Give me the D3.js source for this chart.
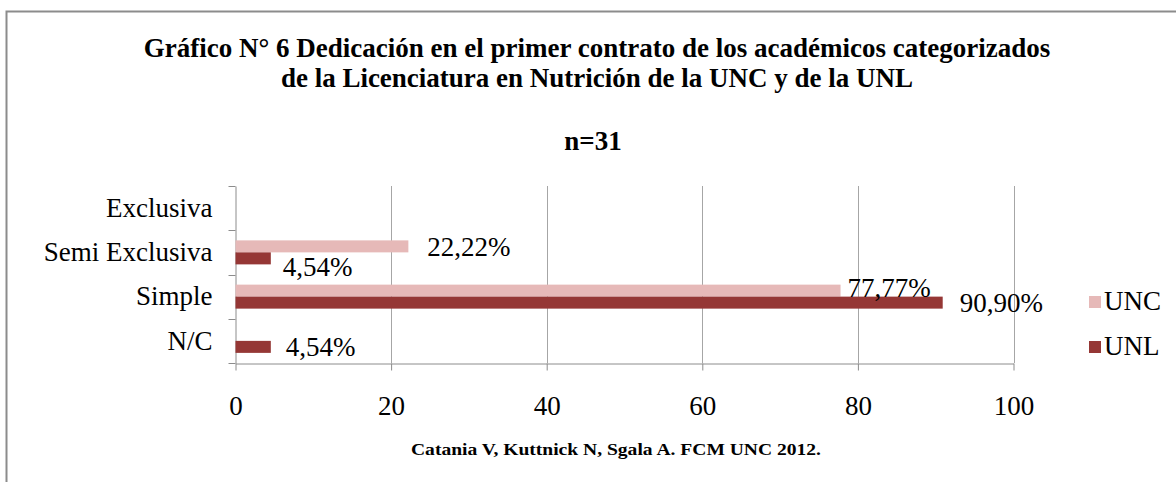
<!DOCTYPE html>
<html>
<head>
<meta charset="utf-8">
<script src="https://cdn.jsdelivr.net/npm/d3@7"></script>
<style>
  body { margin: 0; background: #fff; }
  svg text { font-family: "Liberation Serif", "Times New Roman", serif; fill: #000; }
</style>
</head>
<body>
<div id="chart"></div>
<script>
// datos
var categorias = ["Exclusiva", "Semi Exclusiva", "Simple", "N/C"];
var series = ["UNC", "UNL"];
var valoresUNC = [0, 22.22, 77.77, 0];
var valoresUNL = [0, 4.54, 90.90, 4.54];
var etiquetasUNC = ["", "22,22%", "77,77%", ""];
var etiquetasUNL = ["", "4,54%", "90,90%", "4,54%"];
var ticksX = [0, 20, 40, 60, 80, 100];

var colores = { UNC: "#e6b9b8", UNL: "#953735" };

// desplazamiento de cada etiqueta respecto al final de su barra (como en Excel)
var ajuste = {
    "Semi Exclusiva|UNC": [19, 10],
    "Semi Exclusiva|UNL": [12, 18],
    "Simple|UNC": [7, 6],
    "Simple|UNL": [17, 9],
    "N/C|UNL": [15, 9]
};

var width = 1176, height = 482;
var svg = d3.select("#chart").append("svg")
    .attr("width", width)
    .attr("height", height);

// marco
svg.append("path")
    .attr("d", "M6.5,482 V11.5 H1176")
    .attr("fill", "none")
    .attr("stroke", "#8c8c8c")
    .attr("stroke-width", 2);

// titulo
var titulo = svg.append("g").attr("font-weight", "bold").attr("font-size", 27).attr("text-anchor", "middle");
titulo.append("text").attr("x", 597).attr("y", 57).text("Gráfico N° 6 Dedicación en el primer contrato de los académicos categorizados");
titulo.append("text").attr("x", 597).attr("y", 87).text("de la Licenciatura en Nutrición de la UNC y de la UNL");
titulo.append("text").attr("x", 593).attr("y", 150).text("n=31");

var mIzq = 235.5, mDer = 1013.5, mSup = 186, mInf = 363;

var x = d3.scaleLinear().domain([0, 100]).range([mIzq, mDer]);
var y = d3.scaleBand().domain(categorias).range([mSup, mInf]);
var ySub = d3.scaleBand().domain(series).range([y.bandwidth() / 2 - 12, y.bandwidth() / 2 + 12]);

// rejilla
svg.append("g").selectAll("line")
    .data(ticksX.slice(1))
    .enter().append("line")
    .attr("x1", d => Math.round(x(d)) + 0.5)
    .attr("x2", d => Math.round(x(d)) + 0.5)
    .attr("y1", mSup)
    .attr("y2", mInf)
    .attr("stroke", "#a6a6a6");

// eje x
var ejeX = svg.append("g")
    .attr("transform", "translate(0," + (mInf + 0.5) + ")")
    .call(d3.axisBottom(x).tickValues(ticksX).tickSize(7).tickSizeOuter(0).tickFormat(d => d));
ejeX.select(".domain").attr("stroke", "#8c8c8c");
ejeX.selectAll(".tick line").attr("stroke", "#8c8c8c");
ejeX.selectAll(".tick text")
    .attr("font-size", 27)
    .attr("font-family", "Liberation Serif")
    .attr("fill", "#000")
    .attr("y", 32);

// eje y
var ejeY = svg.append("g")
    .attr("transform", "translate(" + mIzq + ",0)")
    .call(d3.axisLeft(y).tickSize(0).tickPadding(23));
ejeY.select(".domain").attr("stroke", "#8c8c8c");
ejeY.selectAll(".tick text")
    .attr("font-size", 27)
    .attr("font-family", "Liberation Serif")
    .attr("fill", "#000");
// marcas entre categorias
ejeY.selectAll(".sep")
    .data([mSup].concat(categorias.map(c => y(c) + y.bandwidth())))
    .enter().append("line")
    .attr("class", "sep")
    .attr("x1", -7).attr("x2", 0)
    .attr("y1", d => Math.round(d) + 0.5)
    .attr("y2", d => Math.round(d) + 0.5)
    .attr("stroke", "#8c8c8c");

// barras
var datos = [];
categorias.forEach(function (c, i) {
    datos.push({ cat: c, serie: "UNC", valor: valoresUNC[i], etiqueta: etiquetasUNC[i] });
    datos.push({ cat: c, serie: "UNL", valor: valoresUNL[i], etiqueta: etiquetasUNL[i] });
});

svg.append("g").selectAll("rect")
    .data(datos.filter(d => d.valor > 0))
    .enter().append("rect")
    .attr("x", x(0))
    .attr("y", d => y(d.cat) + ySub(d.serie))
    .attr("width", d => x(d.valor) - x(0))
    .attr("height", ySub.bandwidth())
    .attr("fill", d => colores[d.serie]);

// etiquetas de datos
svg.append("g").selectAll("text")
    .data(datos.filter(d => d.etiqueta !== ""))
    .enter().append("text")
    .attr("font-size", 27)
    .attr("x", d => x(d.valor) + ajuste[d.cat + "|" + d.serie][0])
    .attr("y", d => y(d.cat) + ySub(d.serie) + ySub.bandwidth() / 2 + ajuste[d.cat + "|" + d.serie][1])
    .text(d => d.etiqueta);

// leyenda
var leyenda = svg.append("g").selectAll("g")
    .data(series)
    .enter().append("g")
    .attr("transform", (d, i) => "translate(1089," + (296 + i * 45) + ")");
leyenda.append("rect")
    .attr("x", 0).attr("y", 0)
    .attr("width", 12).attr("height", 12)
    .attr("fill", d => colores[d]);
leyenda.append("text")
    .attr("x", 15).attr("y", 14)
    .attr("font-size", 27)
    .text(d => d);

// fuente
svg.append("text")
    .attr("x", 616).attr("y", 455)
    .attr("text-anchor", "middle")
    .attr("font-size", 17)
    .attr("font-weight", "bold")
    .attr("textLength", 410)
    .attr("lengthAdjust", "spacingAndGlyphs")
    .text("Catania V, Kuttnick N, Sgala A. FCM UNC 2012.");
</script>
</body>
</html>
